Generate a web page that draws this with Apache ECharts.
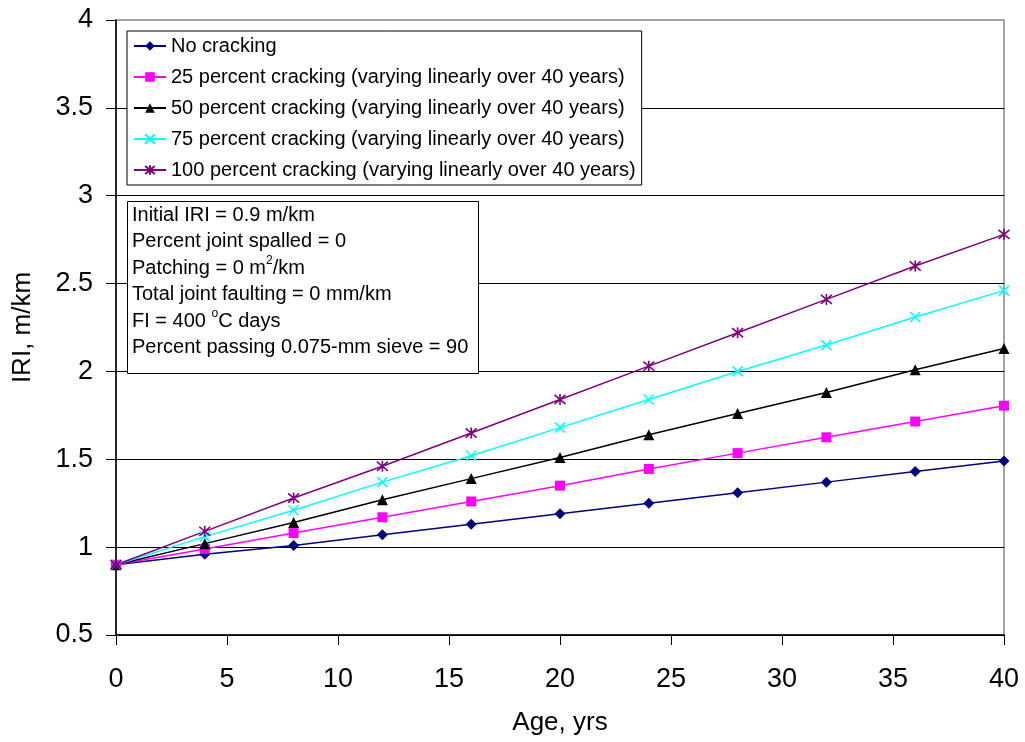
<!DOCTYPE html>
<html>
<head>
<meta charset="utf-8">
<script src="https://cdn.jsdelivr.net/npm/echarts@6/dist/echarts.min.js"></script>
<style>
html,body{margin:0;padding:0;background:#fff;}
#chart{width:1025px;height:742px;}
</style>
</head>
<body>
<div id="chart"></div>
<script>
var ages = [0, 4, 8, 12, 16, 20, 24, 28, 32, 36, 40];
var noCracking = [0.9, 0.96, 1.01, 1.07, 1.13, 1.19, 1.25, 1.31, 1.37, 1.43, 1.49];
var crack25 = [0.9, 0.99, 1.08, 1.17, 1.26, 1.35, 1.445, 1.535, 1.625, 1.715, 1.805];
var crack50 = [0.9, 1.02, 1.14, 1.27, 1.39, 1.51, 1.64, 1.76, 1.88, 2.01, 2.13];
var crack75 = [0.9, 1.06, 1.21, 1.37, 1.52, 1.68, 1.84, 2.0, 2.15, 2.31, 2.46];
var crack100 = [0.9, 1.09, 1.28, 1.46, 1.65, 1.84, 2.03, 2.22, 2.41, 2.6, 2.78];
var seriesNames = [
  'No cracking',
  '25 percent cracking (varying linearly over 40 years)',
  '50 percent cracking (varying linearly over 40 years)',
  '75 percent cracking (varying linearly over 40 years)',
  '100 percent cracking (varying linearly over 40 years)'
];
var noteLines = [
  'Initial IRI = 0.9 m/km',
  'Percent joint spalled = 0',
  'Patching = 0 m{sup|2}/km',
  'Total joint faulting = 0 mm/km',
  'FI = 400 {sup|o}C days',
  'Percent passing 0.075-mm sieve = 90'
];

function pairs(vals) { return ages.map(function (a, i) { return [a, vals[i]]; }); }

var FONT = '"Liberation Sans", Arial, sans-serif';
var xPath = 'path://M0,0L10,10M10,0L0,10';
var starPath = 'path://M0,0L10,10M10,0L0,10M5,-1L5,11';

function mkSeries(name, vals, color, symbol, size, stroke) {
  return {
    name: name,
    type: 'line',
    data: pairs(vals),
    symbol: symbol,
    symbolSize: size,
    showAllSymbol: true,
    animation: false,
    lineStyle: { color: color, width: 1.5 },
    itemStyle: stroke ? { color: color, borderColor: color, borderWidth: 1.6 } : { color: color, borderWidth: 0 },
    emphasis: { disabled: true }
  };
}

var chart = echarts.init(document.getElementById('chart'), null, { renderer: 'canvas' });
chart.setOption({
  backgroundColor: '#fff',
  animation: false,
  grid: { left: 116, right: 21, top: 20, bottom: 107, show: true, borderColor: '#888', borderWidth: 1.5, backgroundColor: 'transparent' },
  xAxis: {
    type: 'value', min: 0, max: 40, interval: 5,
    name: 'Age, yrs', nameLocation: 'middle', nameGap: 75,
    nameTextStyle: { fontFamily: FONT, fontSize: 26, color: '#000' },
    axisLine: { show: true, lineStyle: { color: '#000', width: 1.5 } },
    axisTick: { show: true, length: 10, lineStyle: { color: '#000', width: 1 } },
    axisLabel: { fontFamily: FONT, fontSize: 27, color: '#000', margin: 31 },
    splitLine: { show: false }
  },
  yAxis: {
    type: 'value', min: 0.5, max: 4, interval: 0.5,
    name: 'IRI, m/km', nameLocation: 'middle', nameGap: 80,
    nameTextStyle: { fontFamily: FONT, fontSize: 26, color: '#000' },
    axisLine: { show: true, lineStyle: { color: '#000', width: 1.5 } },
    axisTick: { show: true, length: 10, lineStyle: { color: '#000', width: 1 } },
    axisLabel: { fontFamily: FONT, fontSize: 27, color: '#000', margin: 23, formatter: function (v) { return String(v); } },
    splitLine: { show: true, showMaxLine: false, lineStyle: { color: '#000', width: 1 } }
  },
  legend: {
    show: true,
    orient: 'vertical',
    left: 127, top: 31,
    backgroundColor: '#fff',
    borderColor: '#000', borderWidth: 1,
    padding: [5, 6, 5, 6],
    itemWidth: 32, itemHeight: 12, itemGap: 11,
    textStyle: { fontFamily: FONT, fontSize: 20, color: '#000', lineHeight: 20 },
    data: seriesNames
  },
  graphic: [
    {
      type: 'rect', left: 127, top: 201, z: 10,
      shape: { width: 351, height: 172 },
      style: { fill: '#fff', stroke: '#000', lineWidth: 1 }
    },
    {
      type: 'text', left: 132, top: 202, z: 11,
      style: {
        text: noteLines.join('\n'),
        font: '20px ' + FONT,
        fill: '#000',
        lineHeight: 26.5,
        rich: {
          sup: { fontSize: 12, fontFamily: FONT, verticalAlign: 'top', padding: [0, 0, 10, 0], fill: '#000' }
        }
      }
    }
  ],
  series: [
    mkSeries(seriesNames[0], noCracking, '#000080', 'diamond', 11, false),
    mkSeries(seriesNames[1], crack25, '#FF00FF', 'rect', 10, false),
    mkSeries(seriesNames[2], crack50, '#000000', 'triangle', 11, false),
    mkSeries(seriesNames[3], crack75, '#00FFFF', xPath, 10, true),
    mkSeries(seriesNames[4], crack100, '#800080', starPath, 11, true)
  ]
});
</script>
</body>
</html>
